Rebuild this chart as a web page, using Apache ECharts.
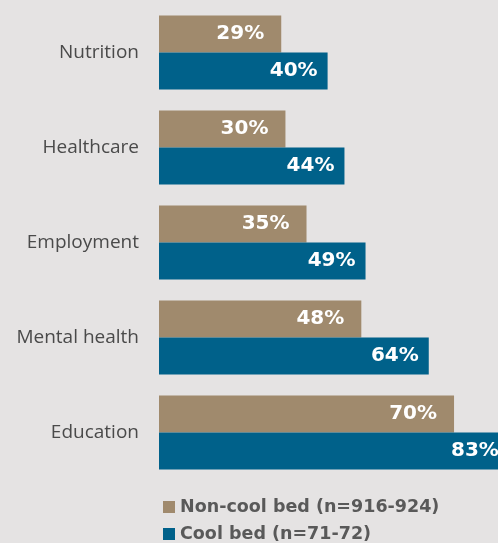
<!DOCTYPE html>
<html>
<head>
<meta charset="utf-8">
<script src="https://cdn.jsdelivr.net/npm/echarts@6/dist/echarts.min.js"></script>
<style>
  html, body { margin: 0; padding: 0; background: #e5e3e3; }
  #chart { width: 498px; height: 543px; }
</style>
</head>
<body>
<div id="chart"></div>
<script>
// categories, top to bottom
const categories = ['Nutrition', 'Healthcare', 'Employment', 'Mental health', 'Education'];

// percent values per group
const nonCoolBed = [29, 30, 35, 48, 70];
const coolBed = [40, 44, 49, 64, 83];

const seriesNames = ['Non-cool bed (n=916-924)', 'Cool bed (n=71-72)'];

const chart = echarts.init(document.getElementById('chart'));

function barLabel(distance) {
  return {
    show: true,
    position: 'insideRight',
    distance: distance,
    color: '#ffffff',
    fontFamily: 'DejaVu Sans',
    fontWeight: 'bold',
    fontSize: 20,
    formatter: p => p.value + '%'
  };
}

const legendText = {
  color: '#595959',
  fontSize: 17.5,
  fontWeight: 'bold',
  fontFamily: 'DejaVu Sans',
  padding: [0, 0, 0, 0]
};

// one legend per line, stacked
const legends = seriesNames.map((name, i) => ({
  left: 161,
  top: 496 + i * 27,
  itemWidth: 12,
  itemHeight: 12,
  itemGap: 0,
  icon: 'rect',
  padding: 2,
  textStyle: legendText,
  data: [name]
}));

const option = {
  backgroundColor: '#e5e3e3',
  animation: false,
  textStyle: { fontFamily: 'Open Sans' },
  // the longest bar runs past the right edge, as in the original
  grid: { left: 159, width: 421.5, top: 5, height: 475, outerBoundsMode: 'none', containLabel: false },
  xAxis: {
    type: 'value',
    min: 0,
    max: 100,
    show: false
  },
  yAxis: {
    type: 'category',
    data: categories,
    inverse: true,
    axisLine: { show: false },
    axisTick: { show: false },
    axisLabel: {
      margin: 20,
      color: '#4a4a4a',
      fontSize: 19,
      fontFamily: 'Open Sans'
    }
  },
  legend: legends,
  series: [
    {
      name: seriesNames[0],
      type: 'bar',
      data: nonCoolBed,
      barWidth: 37,
      barGap: '0%',
      itemStyle: { color: '#a08a6d' },
      label: barLabel(17)
    },
    {
      name: seriesNames[1],
      type: 'bar',
      data: coolBed,
      barWidth: 37,
      barGap: '0%',
      itemStyle: { color: '#00618a' },
      label: barLabel(10)
    }
  ]
};

chart.setOption(option);
</script>
</body>
</html>
